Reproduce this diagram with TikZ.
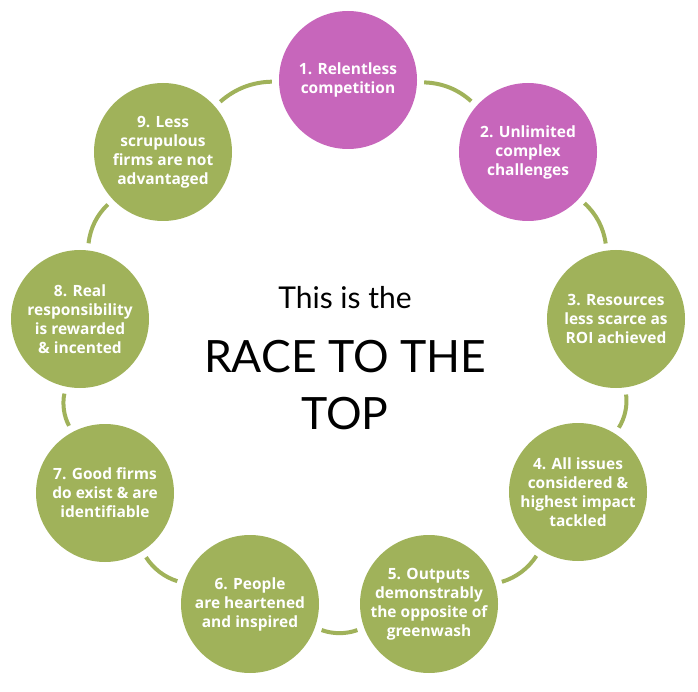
\documentclass[tikz,border=0pt]{standalone}
\usepackage{fontspec}
\setmainfont{Lato}
\newfontfamily\stagefont{Open Sans}
\usepackage{xcolor}
\usetikzlibrary{positioning}
\definecolor{racepink}{HTML}{C766BB}
\definecolor{racegreen}{HTML}{A0B25A}

\begin{document}
\begin{tikzpicture}[
    x=1pt, y=-1pt,
    node distance=24pt,
    stage/.style={circle, fill=racegreen, minimum size=138pt, inner sep=0pt, align=center, text=white, font=\stagefont\bfseries\fontsize{15.5}{19}\selectfont},
    hot/.style={stage, fill=racepink},
    link/.style={racegreen, line width=4pt, shorten <=7pt, shorten >=7pt, bend left=20}
]
\useasboundingbox (0,0) rectangle (698,692);
\node[hot] (s1) at (348,80) {1. Relentless\\competition};
\node[hot] (s2) at (528,152) {2. Unlimited\\complex\\challenges};
\node[stage] (s3) at (616,319) {3. Resources\\less scarce as\\ROI achieved};
\node[stage] (s4) at (578,492) {4. All issues\\considered \&\\highest impact\\tackled};
\node[stage] (s5) at (429,604) {5. Outputs\\demonstrably\\the opposite of\\greenwash};
\node[stage] (s6) at (250,604) {6. People\\are heartened\\and inspired};
\node[stage] (s7) at (105,493) {7. Good firms\\do exist \& are\\identifiable};
\node[stage] (s8) at (80,319) {8. Real\\responsibility\\is rewarded\\\& incented};
\node[stage] (s9) at (163,152) {9. Less\\scrupulous\\firms are not\\advantaged};
\node[font=\fontsize{30}{34}\selectfont] (intro) at (345,298) {This is the};
\node[below=of intro, align=center, font=\fontsize{44.5}{57}\selectfont] (title) {RACE TO THE\\TOP};
\draw[link] (s1) to (s2);
\draw[link] (s2) to (s3);
\draw[link] (s3) to (s4);
\draw[link] (s4) to (s5);
\draw[link] (s5) to (s6);
\draw[link] (s6) to (s7);
\draw[link] (s7) to (s8);
\draw[link] (s8) to (s9);
\draw[link] (s9) to (s1);
\end{tikzpicture}
\end{document}
